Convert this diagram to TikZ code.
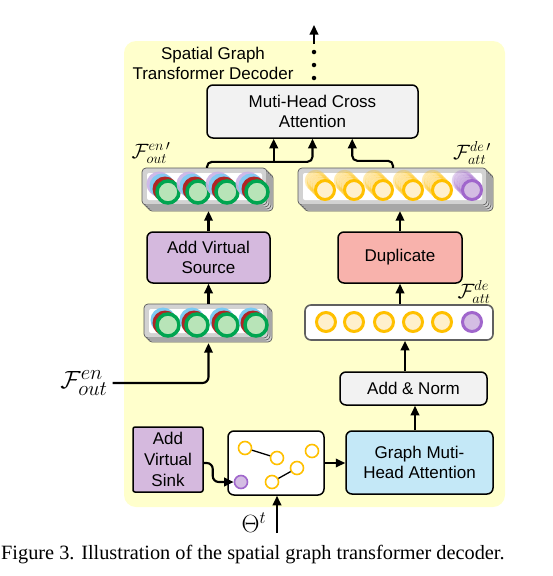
\documentclass[tikz,border=0pt]{standalone}
\usepackage{fontspec}
\setmainfont{Liberation Sans}
\newfontfamily\capfont{Liberation Serif}
\usetikzlibrary{arrows.meta,calc}
\definecolor{bgy}{HTML}{FFFFCC}
\definecolor{lgray}{HTML}{F2F2F2}
\definecolor{lav}{HTML}{D5B9DE}
\definecolor{salmon}{HTML}{F8B2AC}
\definecolor{lblue}{HTML}{C4E8F7}
\definecolor{gring}{HTML}{00A550}
\definecolor{gfill}{HTML}{B8E4B8}
\definecolor{rring}{HTML}{B02525}
\definecolor{bring}{HTML}{7CCBF2}
\definecolor{pring}{HTML}{C9B2E6}
\definecolor{yring}{HTML}{FFC000}
\definecolor{yfill}{HTML}{FFF0CC}
\definecolor{vring}{HTML}{A066CC}
\definecolor{vfill}{HTML}{D4BDE3}
\tikzset{
  box/.style={draw, line width=1.5pt, rounded corners=6pt, align=center, inner sep=0pt,
    font=\fontsize{17}{19.5}\selectfont},
  arr/.style={line width=2.1pt, -{Triangle[length=9.5pt,width=8.5pt]}},
  stackl/.style={fill=gray!35, draw=gray!70!black, line width=0.7pt, rounded corners=4pt},
  ghost/.style={inner sep=0pt, draw=none},
  gring/.style={draw=gring, fill=gfill, line width=3.5pt},
  yr/.style={draw=yring, fill=yfill, line width=3pt},
  vr/.style={draw=vring, fill=vfill, line width=3pt},
  gnode/.style={circle, draw=yring, fill=white, line width=1.6pt, minimum size=13pt, inner sep=0pt},
  pnode/.style={circle, draw=vring, fill=vfill, line width=1.6pt, minimum size=13pt, inner sep=0pt},
  dotn/.style={circle, fill=black, inner sep=0pt, minimum size=4.5pt},
  lab/.style={inner sep=0pt, font=\fontsize{21}{23}\selectfont},
}
\newcommand\stk[5]{%
  \foreach \k in {#5,...,1}{
    \draw[stackl] (#1+2*\k,#2+2*\k) rectangle (#3+2*\k,#4+2*\k);
  }
  \draw[stackl] (#1,#2) rectangle (#3,#4);
  \fill[white, rounded corners=2pt] (#1+5,#2+5) rectangle (#3-5,#4-5);
}
\newcommand\encfull[2]{%
  \fill[pring, opacity=.9] (#1-9,#2-8) circle (12.5);
  \fill[bring, opacity=.9] (#1-6,#2-6) circle (12.5);
  \fill[rring] (#1-3,#2-3) circle (12.5);
  \draw[gring] (#1,#2) circle (11);
}
\newcommand\enclow[2]{%
  \fill[bring] (#1-5,#2-5) circle (12.5);
  \fill[rring] (#1-3,#2-2) circle (12.5);
  \draw[gring] (#1,#2) circle (11);
}
\newcommand\ghostring[3]{%
  \foreach \k in {4,3,2,1}{
    \draw[#3, opacity=.3] (#1-2.3*\k,#2-2.3*\k) circle (9.5);
  }
  \draw[#3] (#1,#2) circle (9.5);
}
\begin{document}
\begin{tikzpicture}[x=1pt,y=-1pt]
\useasboundingbox (0,0) rectangle (552,576);
\fill[bgy, rounded corners=12pt] (124,41) rectangle (505,507);

% title
\node[align=center, inner sep=0pt, font=\fontsize{17}{20}\selectfont] (title) at (213,63)
  {Spatial Graph\\Transformer Decoder};

% dotted output arrow
\node[dotn] (dt1) at (314,52) {};
\node[dotn] (dt2) at (314,65) {};
\node[dotn] (dt3) at (314,78) {};
\coordinate (as) at (314,44);
\coordinate (at) at (314,25);
\draw[arr] (as) -- (at);

% main boxes
\node[box, fill=lgray, minimum width=211pt, minimum height=53pt] (mhca) at (312.5,111.5)
  {Muti-Head Cross\\Attention};
\node[box, fill=lav, minimum width=123pt, minimum height=51pt] (avs) at (208.5,257.5)
  {Add Virtual\\Source};
\node[box, fill=salmon, minimum width=124pt, minimum height=51pt] (dup) at (400,257.5)
  {Duplicate};
\node[box, fill=lgray, minimum width=147pt, minimum height=33pt] (an) at (413.5,388.5)
  {Add \& Norm};
\node[box, fill=lblue, minimum width=147pt, minimum height=63pt] (gmha) at (419.5,462.5)
  {Graph Muti-\\Head Attention};
\node[box, fill=lav, rounded corners=2pt, minimum width=70pt, minimum height=65pt,
  font=\fontsize{17}{21}\selectfont] (sink) at (168,459.5)
  {Add\\Virtual\\Sink};
\node[box, fill=white, minimum width=96pt, minimum height=64pt] (gbox) at (276,463) {};

% stacks
\stk{142}{168}{267}{205}{3}
\stk{298}{168}{487}{205}{3}
\stk{144}{304}{268}{338}{2}
\node[ghost, minimum width=131pt, minimum height=43pt] (encT) at (207,189.5) {};
\node[ghost, minimum width=195pt, minimum height=43pt] (decT) at (395.5,189.5) {};
\node[ghost, minimum width=129pt, minimum height=39pt] (encB) at (208.5,323.5) {};
\node[draw=gray!75!black, line width=1.6pt, fill=white, rounded corners=6pt,
  minimum width=188pt, minimum height=35pt, inner sep=0pt] (decB) at (399,322.5) {};

% circles
\foreach \x in {168,198,227,257} { \encfull{\x}{192} }
\foreach \x in {168,197,227,256} { \enclow{\x}{325} }
\foreach \x in {325,354,383,413,442} { \ghostring{\x}{190}{yr} }
\ghostring{472}{190}{vr}
\foreach \x in {326,354,384,413,442} { \draw[yr] (\x,322) circle (9.5); }
\draw[vr] (472,322) circle (9.5);

% graph inside gbox
\node[gnode] (g1) at (245,448) {};
\node[gnode] (g2) at (277,458) {};
\node[gnode] (g3) at (312,451) {};
\node[gnode] (g4) at (297,468) {};
\node[gnode] (g5) at (272,482) {};
\node[pnode] (gp) at (241,482) {};
\draw[line width=1.3pt] (g1) -- (g2);
\draw[line width=1.3pt] (g5) -- (g4);

% labels
\node[lab] (lenT) at (151,153) {$\mathcal{F}^{en\,\prime}_{out}$};
\node[lab] (ldeT) at (472,153) {$\mathcal{F}^{de\,\prime}_{att}$};
\node[lab] (lde) at (474,292) {$\mathcal{F}^{de}_{att}$};
\node[inner sep=0pt, font=\fontsize{29}{31}\selectfont] (lenB) at (84,383) {$\mathcal{F}^{en}_{out}$};
\node[inner sep=0pt, font=\fontsize{26}{28}\selectfont] (theta) at (254,523) {$\Theta^{t}$};

% connectors
\coordinate (m1) at ($(mhca.south west)!0.3175!(mhca.south east)$);
\coordinate (m3) at ($(mhca.south west)!0.687!(mhca.south east)$);
\coordinate (j1) at ($(encT.north)+(0,-6)$);
\draw[arr, rounded corners=5pt] (encT.north) -- (j1) -| (mhca.south);
\draw[arr] (j1 -| m1) -- (m1);
\coordinate (d0) at ($(decT.north)+(-2.5,0)$);
\draw[arr, rounded corners=5pt] (d0) -- ++(0,-7) -| (m3);

\draw[arr] (avs.north |- encB.north) -- (avs.south);
\draw[arr] (avs.north) -- (avs.north |- encT.south);
\draw[arr, rounded corners=6pt] ($(lenB.east)+(5,0)$) -| (encB.south);

\draw[arr] (dup.north |- decB.north) -- (dup.south);
\draw[arr] (dup.north) -- (dup.north |- decT.south);
\coordinate (an1) at ($(an.north)+(-8.5,0)$);
\draw[arr] (an1) -- (an1 |- decB.south);
\coordinate (gm1) at ($(gmha.north)+(-4.5,0)$);
\draw[arr] (gm1) -- (gm1 |- an.south);
\draw[arr] (gbox.east) -- (gmha.west |- gbox.east);
\draw[arr, rounded corners=6pt] ($(sink.east)+(0,3.5)$) -- ++(9,0) |- (gp.west);
\coordinate (ths) at (277,533);
\draw[arr] (ths) -- (ths |- gbox.south);

% caption
\node[anchor=west, inner sep=0pt, font=\capfont\fontsize{20.3}{22}\selectfont] (cap) at (1,555)
  {Figure 3. Illustration of the spatial graph transformer decoder.};
\end{tikzpicture}
\end{document}
